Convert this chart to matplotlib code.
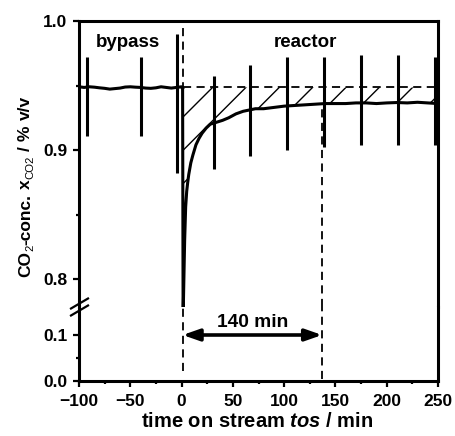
import matplotlib
matplotlib.use("Agg")
import matplotlib.pyplot as plt
from matplotlib.lines import Line2D

plt.rcParams['font.family'] = ['Liberation Sans', 'DejaVu Sans']
plt.rcParams['font.weight'] = 'bold'
plt.rcParams['mathtext.fontset'] = 'custom'
plt.rcParams['mathtext.rm'] = 'Liberation Sans'
plt.rcParams['mathtext.bf'] = 'Liberation Sans:bold'
plt.rcParams['mathtext.it'] = 'Liberation Sans:italic:bold'
plt.rcParams['hatch.linewidth'] = 1.0

# ---------------- data ----------------
bypass_t = [-100, -95, -90, -85, -80, -75, -70, -65, -60, -55, -50, -45, -40,
            -35, -30, -25, -20, -15, -10, -5, 0, 1.0]
bypass_x = [0.949, 0.9485, 0.949, 0.9487, 0.9482, 0.9478, 0.9472, 0.9476, 0.948,
            0.9488, 0.949, 0.9487, 0.9485, 0.948, 0.9478, 0.9482, 0.949, 0.9485,
            0.948, 0.9485, 0.949, 0.948]

reactor_t = [1.0, 1.5, 2.0, 3.0, 4.0, 5.0, 6.0, 7.0, 9.0, 11.0, 14.0, 17.0, 20.0,
             24.0, 28.0, 32.0, 36.0, 40.0, 46.0, 53.0, 60.0, 66.0, 72.0, 80.0,
             90.0, 100.0, 110.0, 120.0, 130.0, 140.0, 150.0, 160.0, 170.0, 180.0,
             190.0, 200.0, 210.0, 220.0, 230.0, 240.0, 250.0]
reactor_x = [0.948, 0.77, 0.79, 0.83, 0.856, 0.868, 0.875, 0.881, 0.890, 0.896,
             0.904, 0.909, 0.913, 0.917, 0.920, 0.921, 0.922, 0.923, 0.925, 0.928,
             0.930, 0.931, 0.932, 0.932, 0.933, 0.934, 0.9345, 0.935, 0.9355, 0.936,
             0.936, 0.936, 0.9365, 0.9365, 0.936, 0.9365, 0.9368, 0.9365, 0.937,
             0.9365, 0.936]

baseline = 0.9485

spike_t = [-92, -40, -4, 32, 67, 103, 139, 175, 211, 247]
spike_top = [0.972, 0.972, 0.990, 0.957, 0.966, 0.972, 0.972, 0.9735, 0.9735, 0.972]
spike_bottom = [0.911, 0.911, 0.882, 0.885, 0.895, 0.900, 0.9026, 0.904, 0.904, 0.904]

t_switch = 1.0
t_end = 137.0
arrow_y = 0.1
label_140 = "140 min"

xticks = [-100, -50, 0, 50, 100, 150, 200, 250]
yticks_top = [0.8, 0.9, 1.0]
yticks_bot = [0.0, 0.1]

# y-label pieces: (text, is_subscript, gap_after_px)
ylabel_parts = [("CO", False, 0), ("2", True, 0), ("-conc.", False, 5),
                ("x", False, 0), ("CO2", True, 5), ("/", False, 5),
                ("%", False, 5), ("v/v", False, 0)]

# ---------------- figure ----------------
W, H = 456, 436
fig = plt.figure(figsize=(W / 100, H / 100), dpi=100)
left, right, top, brk, bottom = 79, 438, 21, 307, 381
ax_t = fig.add_axes([left / W, 1 - brk / H, (right - left) / W, (brk - top) / H])
ax_b = fig.add_axes([left / W, 1 - bottom / H, (right - left) / W, (bottom - brk) / H])

ax_t.set_ylim(1.0 - (brk - top) / 1290.0, 1.0)
ax_b.set_ylim(0.0, (bottom - brk) / 460.0)
for ax in (ax_t, ax_b):
    ax.set_xlim(-100, 250)
    for s in ax.spines.values():
        s.set_linewidth(2.2)
    ax.tick_params(axis='both', which='major', direction='out', length=4.5, width=1.6,
                   labelsize=12.5, pad=4)
    ax.tick_params(axis='both', which='minor', direction='out', length=2.3, width=1.6)
    ax.set_xticks(xticks)
    ax.set_xticks(range(-75, 250, 50), minor=True)

ax_t.spines['bottom'].set_visible(False)
ax_b.spines['top'].set_visible(False)
ax_t.tick_params(axis='x', which='both', bottom=False, labelbottom=False)
ax_t.set_yticks(yticks_top)
ax_t.set_yticks([0.85, 0.95], minor=True)
ax_t.set_yticklabels([f"{v:.1f}" for v in yticks_top])
ax_b.set_yticks(yticks_bot)
ax_b.set_yticks([0.05], minor=True)
ax_b.set_yticklabels([f"{v:.1f}" for v in yticks_bot])
ax_b.set_xticklabels([str(v).replace('-', '\u2212') for v in xticks])
ax_b.tick_params(axis='x', pad=5)

# hatch area between baseline and reactor curve
ax_t.fill_between(reactor_t, [baseline] * len(reactor_t), reactor_x,
                  facecolor='none', edgecolor='black', hatch='/', linewidth=0)

# data
ax_t.plot(bypass_t, bypass_x, color='black', lw=2.2, solid_joinstyle='round')
ax_t.plot(reactor_t, reactor_x, color='black', lw=2.2, solid_joinstyle='round')
ax_t.vlines(spike_t, spike_bottom, spike_top, color='black', lw=2.2)

# dashed reference lines
dash = dict(color='black', lw=1.3, linestyle=(0, (4.5, 3)))
ax_t.plot([t_switch, 250], [baseline, baseline], **dash)
ax_t.axvline(t_switch, **dash)
ax_b.axvline(t_switch, ymin=0.14, ymax=1.0, **dash)
ax_t.vlines(t_end, ax_t.get_ylim()[0], 0.936, **dash)
ax_b.axvline(t_end, ymin=0.03, ymax=1.0, **dash)

# arrow
ax_b.annotate('', xy=(t_end, arrow_y), xytext=(t_switch, arrow_y),
              arrowprops=dict(arrowstyle='<|-|>,head_length=1.0,head_width=0.35',
                              color='black', lw=2.6, shrinkA=0, shrinkB=0))
ax_b.text((t_switch + t_end) / 2, 0.128, label_140, ha='center', va='center',
          fontsize=13.8, fontweight='bold')

ax_t.text(-52, 0.983, 'bypass', ha='center', va='center', fontsize=13.5, fontweight='bold')
ax_t.text(121, 0.983, 'reactor', ha='center', va='center', fontsize=13.5, fontweight='bold')

# x label
fig.text(257 / W, 1 - 421 / H, r'time on stream $\mathit{tos}$ / min', ha='center',
         va='center', fontsize=14.5, fontweight='bold')

# y label built from pieces (rotated 90 deg, reading bottom-to-top)
renderer = fig.canvas.get_renderer()
base_x = 30.0        # px from left: baseline of main letters
ypos = H - 277.0     # px from bottom: start of the label
for txt, sub, gap in ylabel_parts:
    if sub:
        t = fig.text((base_x + 3.0) / W, ypos / H, txt, rotation=90, rotation_mode='anchor',
                     ha='left', va='baseline', fontsize=8.2, fontweight='normal')
    else:
        t = fig.text(base_x / W, ypos / H, txt, rotation=90, rotation_mode='anchor',
                     ha='left', va='baseline', fontsize=12.5, fontweight='bold')
    ext = t.get_window_extent(renderer)
    ypos += ext.height + gap

# break marks on left spine
for dy in (-3.5, 3.5):
    yc = brk + dy
    fig.add_artist(Line2D([71 / W, 88 / W], [1 - (yc + 5) / H, 1 - (yc - 5) / H],
                          color='black', lw=1.6, transform=fig.transFigure))

fig.savefig('out.png', dpi=100)
